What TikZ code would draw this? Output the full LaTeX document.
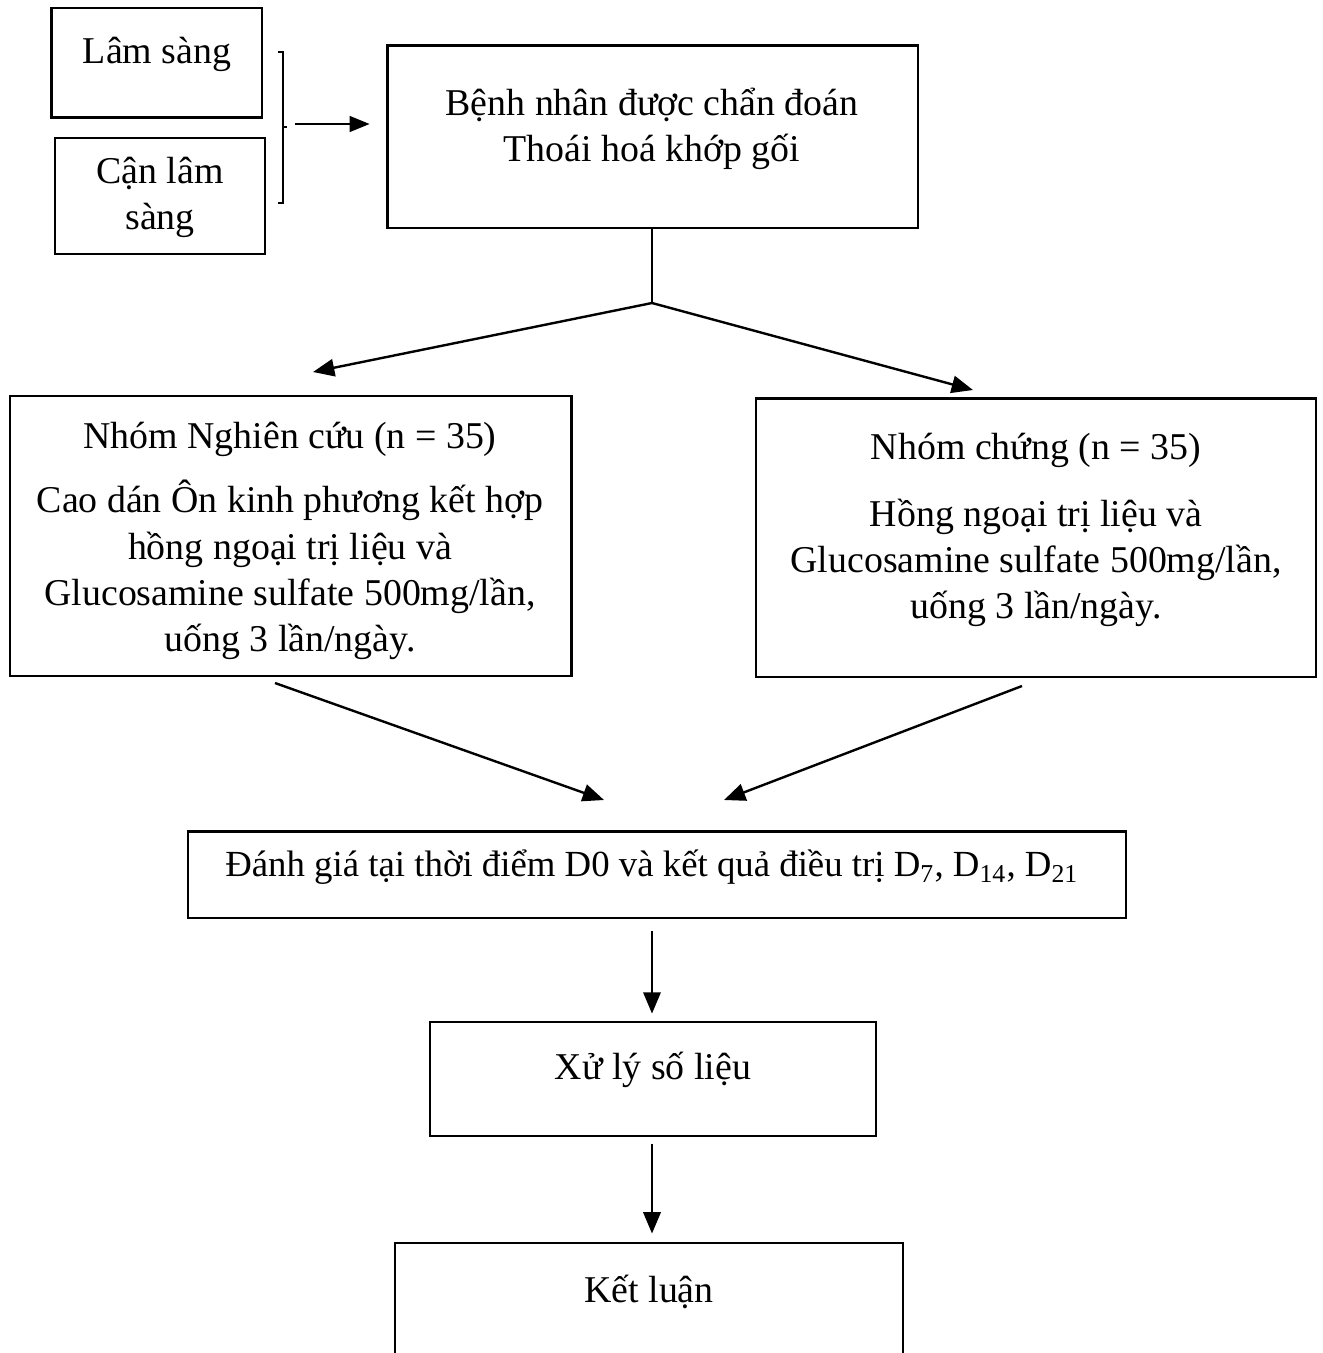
\documentclass[tikz,border=0pt]{standalone}
\usepackage{fontspec}
\setmainfont{Liberation Serif}
\usetikzlibrary{arrows.meta}
\begin{document}
\begin{tikzpicture}[x=0.375pt,y=-0.375pt,
  box/.style={draw,line width=1.1pt,inner sep=0pt},
  txt/.style={align=center,inner sep=0pt,font=\fontsize{14.2}{17.3}\selectfont},
  conn/.style={line width=0.9pt},
  arr/.style={line width=0.9pt,-{Triangle[length=8pt,width=6.5pt]}},
  thinarr/.style={line width=0.6pt,-{Triangle[length=7.5pt,width=6pt]}}]
\clip (0,0) rectangle (1323,1353);
\useasboundingbox (0,0) rectangle (1323,1353);
% boxes
\node[box,minimum width=79.1pt,minimum height=40.9pt] (lam) at (156.5,62.5) {};
\node[txt] (lamt) at (157,54) {Lâm sàng};
\node[box,minimum width=78.75pt,minimum height=43.5pt] (can) at (160,196) {};
\node[txt] (cant) at (160,197) {Cận lâm\\sàng};
\node[box,minimum width=199.1pt,minimum height=68.6pt] (main) at (652.5,136.5) {};
\node[txt] (maint) at (652,129) {Bệnh nhân được chẩn đoán\\Thoái hoá khớp gối};
\node[box,minimum width=210.4pt,minimum height=105pt] (left) at (290.5,536) {};
\node[txt] (leftt) at (290,439) {Nhóm Nghiên cứu (n = 35)};
\node[txt] (leftb) at (290,570) {Cao dán Ôn kinh phương kết hợp\\hồng ngoại trị liệu và\\Glucosamine sulfate 500mg/lần,\\uống 3 lần/ngày.};
\node[box,minimum width=210pt,minimum height=104.6pt] (right) at (1036,537.5) {};
\node[txt] (rightt) at (1036,450) {Nhóm chứng (n = 35)};
\node[txt] (rightb) at (1036,563) {Hồng ngoại trị liệu và\\Glucosamine sulfate 500mg/lần,\\uống 3 lần/ngày.};
\node[box,minimum width=351.75pt,minimum height=32.6pt] (eval) at (657,874.5) {};
\node[txt,font=\fontsize{13.8}{16.8}\selectfont] (evalt) at (652,867) {Đánh giá tại thời điểm D0 và kết quả điều trị D\textsubscript{7}, D\textsubscript{14}, D\textsubscript{21}};
\node[box,minimum width=167.25pt,minimum height=42.75pt] (xuly) at (653,1079) {};
\node[txt] (xulyt) at (653,1070) {Xử lý số liệu};
\node[box,minimum width=190.5pt,minimum height=60pt] (ket) at (649,1323) {};
\node[txt] (kett) at (649,1292) {Kết luận};
% bracket
\draw[line width=0.5pt] (278,52) -- (283,52) -- (283,203) -- (278,203);
\draw[line width=0.5pt] (283,127) -- (287,127);
\coordinate (brk) at (295,124);
\draw[thinarr] (brk) -- (main.west |- brk) [shorten >=6pt];
% split
\coordinate (split) at (652,303);
\coordinate (ltip) at (313,372);
\coordinate (rtip) at (973,390);
\draw[conn] (main.south -| split) -- (split);
\draw[arr] (split) -- (ltip);
\draw[arr] (split) -- (rtip);
% converge
\coordinate (ls) at (275,683);
\coordinate (rs) at (1022,686);
\coordinate (lt) at (604,800);
\coordinate (rt) at (724,800);
\draw[arr] (ls) -- (lt);
\draw[arr] (rs) -- (rt);
% vertical
\draw[arr,shorten <=4.5pt,shorten >=2.6pt] (eval.south -| 652,0) -- (xuly.north -| 652,0);
\draw[arr,shorten <=2.3pt,shorten >=3pt] (xuly.south -| 652,0) -- (ket.north -| 652,0);
\end{tikzpicture}
\end{document}
